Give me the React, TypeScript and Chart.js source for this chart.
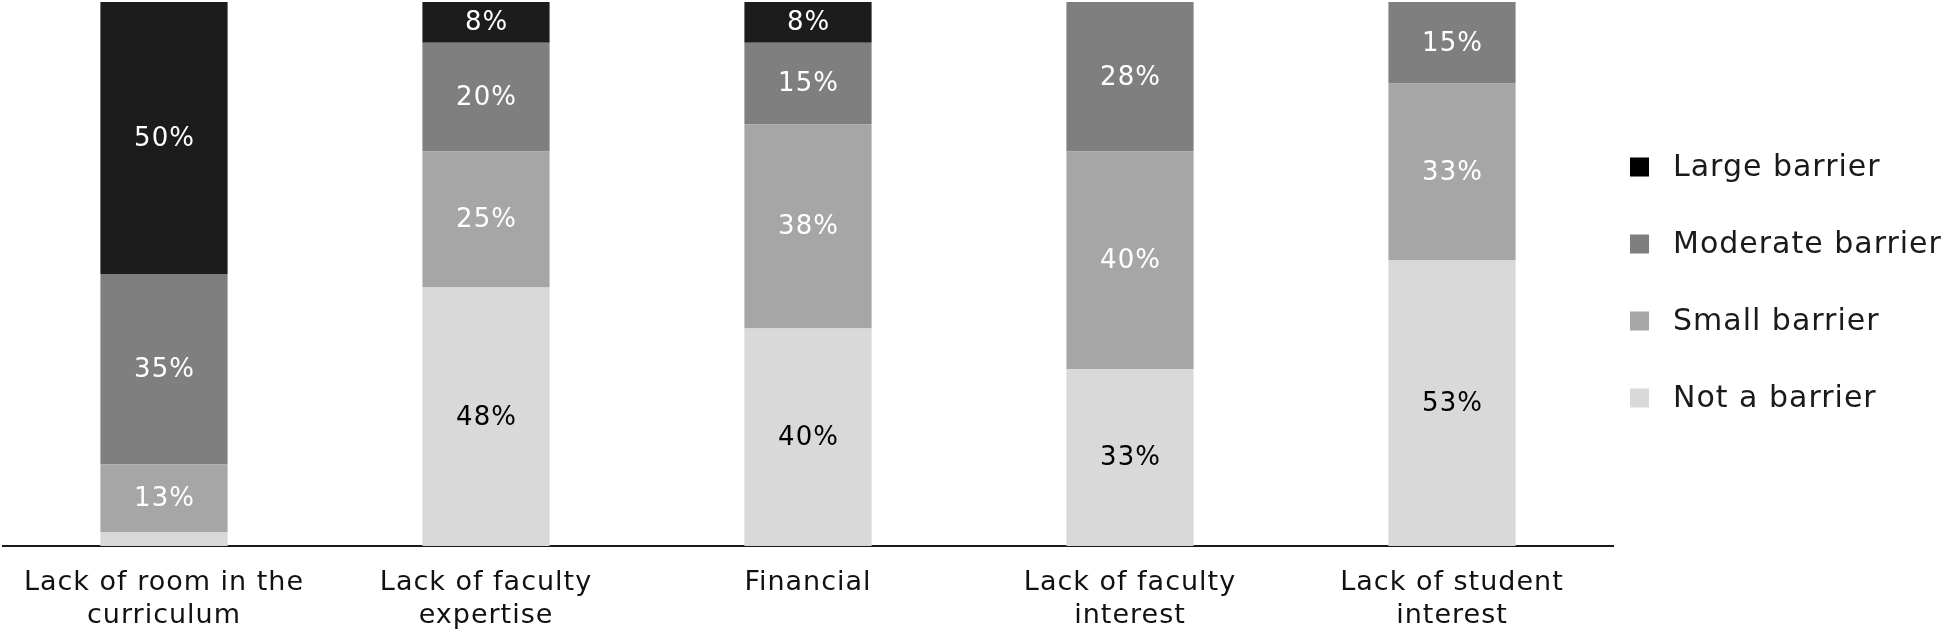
import React, { useEffect, useRef } from "react";
import { Chart, registerables } from "chart.js";

Chart.register(...registerables);

const categories: string[][] = [
  ["Lack of room in the", "curriculum"],
  ["Lack of faculty", "expertise"],
  ["Financial"],
  ["Lack of faculty", "interest"],
  ["Lack of student", "interest"],
];

const notBarrier = [2.5, 47.5, 40, 32.5, 52.5];
const smallBarrier = [12.5, 25, 37.5, 40, 32.5];
const moderateBarrier = [35, 20, 15, 27.5, 15];
const largeBarrier = [50, 7.5, 7.5, 0, 0];

const seriesLabels = ["Not a barrier", "Small barrier", "Moderate barrier", "Large barrier"];
const seriesColors = ["#d9d9d9", "#a6a6a6", "#7f7f7f", "#1c1c1c"];
const labelColors = ["#000000", "#ffffff", "#ffffff", "#ffffff"];

const FONT = "'DejaVu Sans', Verdana, sans-serif";

const spacingPlugin = {
  id: "letterSpacing",
  beforeLayout(chart: any) {
    chart.ctx.letterSpacing = "1px";
  },
  beforeDraw(chart: any) {
    chart.ctx.letterSpacing = "1px";
  },
};

const valueLabelPlugin = {
  id: "valueLabels",
  afterDatasetsDraw(chart: any) {
    const ctx = chart.ctx;
    ctx.save();
    ctx.letterSpacing = "1px";
    ctx.font = `26px ${FONT}`;
    ctx.textAlign = "center";
    ctx.textBaseline = "middle";
    chart.data.datasets.forEach((ds: any, di: number) => {
      const meta = chart.getDatasetMeta(di);
      meta.data.forEach((bar: any, i: number) => {
        const v = ds.data[i];
        if (v < 5) return;
        const props = bar.getProps(["x", "y", "base"], true);
        ctx.fillStyle = labelColors[di];
        ctx.fillText(`${Math.round(v)}%`, props.x + 0.5, (props.y + props.base) / 2 + 1);
      });
    });
    ctx.restore();
  },
};

const sideLegendPlugin = {
  id: "sideLegend",
  afterDraw(chart: any) {
    const ctx = chart.ctx;
    const area = chart.chartArea;
    const boxX = area.right + 17;
    const textX = area.right + 60;
    const startY = 167;
    const step = 77;
    const n = chart.data.datasets.length;
    ctx.save();
    ctx.letterSpacing = "1px";
    ctx.font = `30px ${FONT}`;
    ctx.textAlign = "left";
    ctx.textBaseline = "middle";
    for (let k = 0; k < n; k++) {
      const di = n - 1 - k;
      const ds = chart.data.datasets[di];
      const cy = startY + k * step;
      ctx.fillStyle = di === n - 1 ? "#000000" : ds.backgroundColor;
      ctx.fillRect(boxX, cy - 9.5, 19, 19);
      ctx.fillStyle = "#1a1a1a";
      ctx.fillText(ds.label, textX, cy + 1);
    }
    ctx.restore();
  },
};

export default function App() {
  const canvasRef = useRef<HTMLCanvasElement | null>(null);

  useEffect(() => {
    document.body.style.margin = "0";
    if (!canvasRef.current) return;
    const seriesValues = [notBarrier, smallBarrier, moderateBarrier, largeBarrier];
    const chart = new Chart(canvasRef.current, {
      type: "bar",
      data: {
        labels: categories,
        datasets: seriesValues.map((vals, i) => ({
          label: seriesLabels[i],
          data: vals,
          backgroundColor: seriesColors[i],
          borderWidth: 0,
          barPercentage: 0.395,
          categoryPercentage: 1,
        })),
      },
      options: {
        animation: false,
        responsive: true,
        maintainAspectRatio: false,
        layout: { padding: { left: 3, right: 333, top: 2, bottom: 0 } },
        plugins: {
          legend: { display: false },
          tooltip: { enabled: false },
        },
        scales: {
          x: {
            stacked: true,
            grid: { display: false, drawTicks: false },
            border: { display: true, color: "#1a1a1a", width: 2 },
            afterFit(scale: any) {
              scale.height = 92;
            },
            ticks: {
              color: "#111111",
              padding: 21,
              autoSkip: false,
              maxRotation: 0,
              font: { family: FONT, size: 27, lineHeight: 1.22 },
            },
          },
          y: {
            stacked: true,
            display: false,
            min: 0,
            max: 100,
          },
        },
      },
      plugins: [spacingPlugin, valueLabelPlugin, sideLegendPlugin],
    });
    return () => chart.destroy();
  }, []);

  return (
    <div style={{ width: 1946, height: 638, position: "relative" }}>
      <canvas ref={canvasRef} />
    </div>
  );
}
